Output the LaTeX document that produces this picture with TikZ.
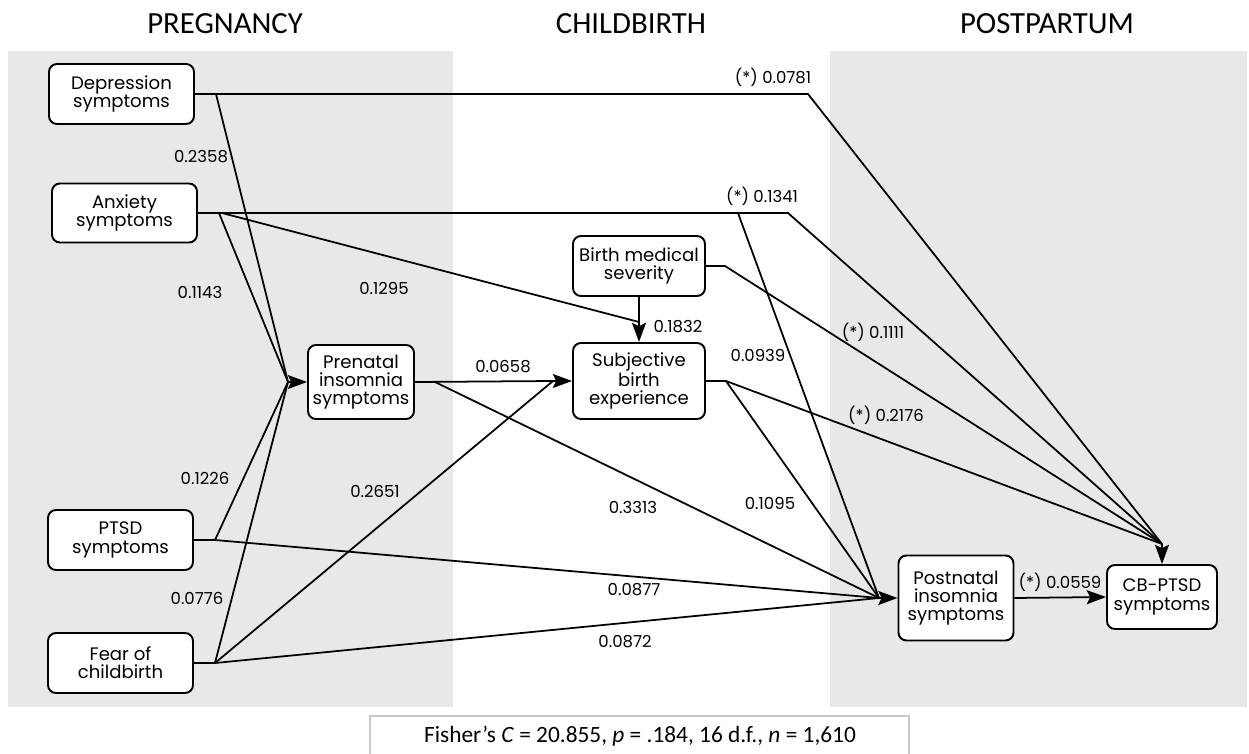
\documentclass[tikz,border=0pt]{standalone}
\usepackage{fontspec}
\setmainfont{Poppins}
\newfontfamily\calfont{Carlito}
\usetikzlibrary{arrows.meta}
\definecolor{panel}{HTML}{E8E8E8}
\definecolor{capline}{HTML}{C8C8C8}
\begin{document}
\begin{tikzpicture}[x=0.02cm,y=-0.02cm,
  box/.style={draw, line width=1.1pt, rounded corners=4.5pt, fill=white, align=center, inner sep=0pt,
    font=\fontsize{10.3}{10.4}\selectfont},
  wire/.style={line width=1pt},
  tip/.style={line width=1pt, -{Stealth[length=11pt,width=8pt,inset=2pt]}},
  lab/.style={font=\fontsize{9.4}{10}\selectfont, inner sep=0pt},
  hdr/.style={font=\calfont\fontsize{17.5}{20}\selectfont, inner sep=0pt}]
\useasboundingbox (0,0) rectangle (1249,754);
% panels
\fill[panel] (8,51) rectangle (453,707);
\fill[panel] (830,51) rectangle (1247,707);
% headers
\node[hdr] (hp) at (225,24) {PREGNANCY};
\node[hdr] (hc) at (631,24) {CHILDBIRTH};
\node[hdr] (hpp) at (1047,24) {POSTPARTUM};
% nodes
\node[box, minimum width=2.9cm, minimum height=1.2cm] (dep) at (121.5,94) {Depression\\symptoms};
\node[box, minimum width=2.9cm, minimum height=1.18cm] (anx) at (124.5,213) {Anxiety\\symptoms};
\node[box, minimum width=2.12cm, minimum height=1.48cm] (pre) at (361,382) {Prenatal\\insomnia\\symptoms};
\node[box, minimum width=2.9cm, minimum height=1.2cm] (ptsd) at (120.5,540) {PTSD\\symptoms};
\node[box, minimum width=2.9cm, minimum height=1.2cm] (fear) at (120.5,663) {Fear of\\childbirth};
\node[box, minimum width=2.64cm, minimum height=1.2cm] (bms) at (639,266) {Birth medical\\severity};
\node[box, minimum width=2.64cm, minimum height=1.52cm] (sbe) at (639,381) {Subjective\\birth\\experience};
\node[box, minimum width=2.3cm, minimum height=1.7cm] (post) at (956,598) {Postnatal\\insomnia\\symptoms};
\node[box, minimum width=2.2cm, minimum height=1.28cm] (cb) at (1162,597) {CB-PTSD\\symptoms};
% junction coordinates
\coordinate (inPre) at (288,382);
\coordinate (inSubL) at (553,381);
\coordinate (inSubT) at (639,322);
\coordinate (inPost) at (879,598);
\coordinate (inCB) at (1162,544);
\coordinate (depB) at (216,94);
\coordinate (depT) at (808,94);
\coordinate (anxB1) at (219,213);
\coordinate (anxB2) at (222,213);
\coordinate (anxB3) at (738,213);
\coordinate (anxT) at (788,213);
\coordinate (bmsT) at (725,266);
\coordinate (preB) at (435,382);
\coordinate (sbeT) at (726,381);
\coordinate (ptsdB) at (215,540);
\coordinate (fearB) at (215,663);
% connectors
\draw[wire] (dep.east) -- (depT) -- (inCB);
\draw[wire] (depB) -- (inPre);
\draw[wire] (anx.east) -- (anxT) -- (inCB);
\draw[wire] (anxB1) -- (inPre);
\draw[wire] (anxB2) -- (inSubT);
\draw[wire] (anxB3) -- (inPost);
\draw[wire] (ptsd.east) -- (ptsdB) -- (inPre);
\draw[wire] (ptsdB) -- (inPost);
\draw[wire] (fear.east) -- (fearB) -- (inPre);
\draw[wire] (fearB) -- (inSubL);
\draw[wire] (fearB) -- (inPost);
\draw[wire] (pre.east) -- (inSubL);
\draw[wire] (pre.east) -- (preB) -- (inPost);
\draw[wire] (bms.east) -- (bmsT) -- (inCB);
\draw[wire] (sbe.east) -- (sbeT) -- (inPost);
\draw[wire] (sbeT) -- (inCB);
\draw[tip] (inPre) -- (pre.west);
\draw[tip] (inSubL) -- (sbe.west);
\draw[tip] (bms.south) -- (sbe.north);
\draw[tip] (inPost) -- (post.west);
\draw[tip] (inCB) -- (cb.north);
\draw[tip] (post.east) -- (cb.west);
% labels
\node[lab] (l1) at (201,157) {0.2358};
\node[lab] (l2) at (200,292) {0.1143};
\node[lab] (l3) at (384,288) {0.1295};
\node[lab] (l4) at (773,77) {(*) 0.0781};
\node[lab] (l5) at (762,196) {(*) 0.1341};
\node[lab] (l6) at (678,327) {0.1832};
\node[lab] (l7) at (758,355) {0.0939};
\node[lab] (l8) at (503,367) {0.0658};
\node[lab] (l9) at (873,332) {(*) 0.1111};
\node[lab] (l10) at (886,415) {(*) 0.2176};
\node[lab] (l11) at (205,478) {0.1226};
\node[lab] (l12) at (375,491) {0.2651};
\node[lab] (l13) at (197,598) {0.0776};
\node[lab] (l14) at (633,507) {0.3313};
\node[lab] (l15) at (770,503) {0.1095};
\node[lab] (l16) at (634,590) {0.0877};
\node[lab] (l17) at (625,642) {0.0872};
\node[lab] (l18) at (1060,582) {(*) 0.0559};
% caption
\draw[capline, line width=1.2pt] (370,760) -- (370,716) -- (909,716) -- (909,760);
\node[font=\calfont\fontsize{13.3}{15}\selectfont, inner sep=0pt] (cap) at (640,736)
  {Fisher’s \textit{C} = 20.855, \textit{p} = .184, 16 d.f., \textit{n} = 1,610};
\end{tikzpicture}
\end{document}
